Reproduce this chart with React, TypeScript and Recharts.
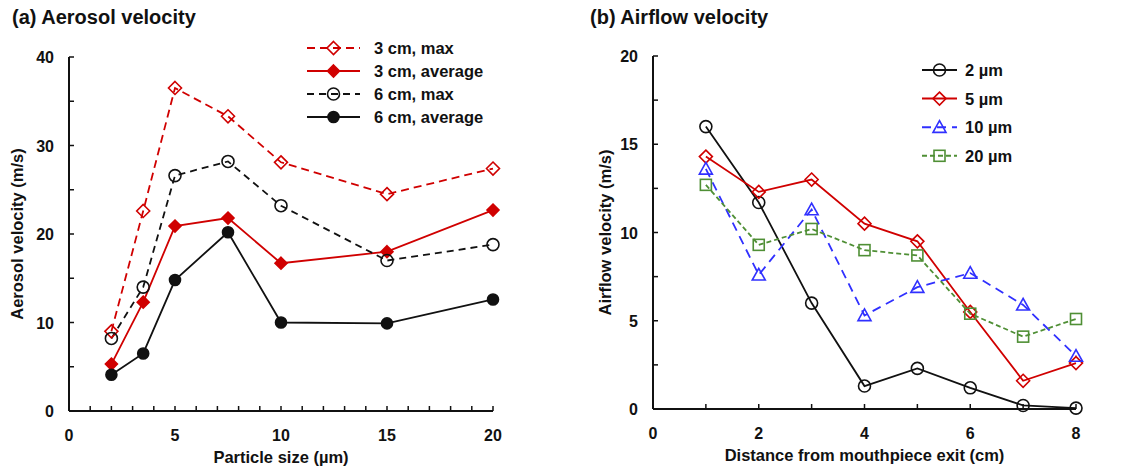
import React from 'react';
import { LineChart, Line, XAxis, YAxis, Legend, Label } from 'recharts';

// (a) aerosol velocity vs particle size
const particleSize = [2, 3.5, 5, 7.5, 10, 15, 20];
const max3cm = [9.0, 22.6, 36.5, 33.3, 28.1, 24.5, 27.4];
const avg3cm = [5.3, 12.3, 20.9, 21.8, 16.7, 18.0, 22.7];
const max6cm = [8.2, 14.0, 26.6, 28.2, 23.2, 17.0, 18.8];
const avg6cm = [4.1, 6.5, 14.8, 20.2, 10.0, 9.9, 12.6];

// (b) airflow velocity vs distance from mouthpiece exit
const distance = [1, 2, 3, 4, 5, 6, 7, 8];
const v2um = [16.0, 11.7, 6.0, 1.3, 2.3, 1.2, 0.2, 0.05];
const v5um = [14.3, 12.3, 13.0, 10.5, 9.5, 5.5, 1.6, 2.6];
const v10um = [13.6, 7.6, 11.3, 5.3, 6.9, 7.7, 5.9, 3.0];
const v20um = [12.7, 9.3, 10.2, 9.0, 8.7, 5.4, 4.1, 5.1];

const sizeTicks = [0, 1, 2, 3, 4, 5, 6, 7, 8, 9, 10, 11, 12, 13, 14, 15, 16, 17, 18, 19, 20];
const sizeLabels = [0, 5, 10, 15, 20];
const aeroTicks = [0, 5, 10, 15, 20, 25, 30, 35, 40];
const aeroLabels = [0, 10, 20, 30, 40];
const distTicks = [0, 1, 2, 3, 4, 5, 6, 7, 8];
const distLabels = [0, 2, 4, 6, 8];
const airTicks = [0, 2.5, 5, 7.5, 10, 12.5, 15, 17.5, 20];
const airLabels = [0, 5, 10, 15, 20];

const FONT = '"Liberation Sans", Arial, sans-serif';
const RED = '#d00000';
const BLUE = '#3030ff';
const GREEN = '#4f8f35';

const aeroData = particleSize.map((x, i) => ({
  x, max3: max3cm[i], avg3: avg3cm[i], max6: max6cm[i], avg6: avg6cm[i],
}));
const airData = distance.map((x, i) => ({
  x, s2: v2um[i], s5: v5um[i], s10: v10um[i], s20: v20um[i],
}));

type Shape = 'diamond' | 'circle' | 'triangle' | 'square';
interface Series {
  key: string; name: string; color: string; dash?: string;
  shape: Shape; filled: boolean; r: number;
}

const seriesA: Series[] = [
  { key: 'max3', name: '3 cm, max', color: RED, dash: '8 5', shape: 'diamond', filled: false, r: 6.5 },
  { key: 'avg3', name: '3 cm, average', color: RED, shape: 'diamond', filled: true, r: 6 },
  { key: 'max6', name: '6 cm, max', color: '#111', dash: '7 5', shape: 'circle', filled: false, r: 6 },
  { key: 'avg6', name: '6 cm, average', color: '#111', shape: 'circle', filled: true, r: 5.5 },
];
const seriesB: Series[] = [
  { key: 's2', name: '2 µm', color: '#111', shape: 'circle', filled: false, r: 6 },
  { key: 's5', name: '5 µm', color: RED, shape: 'diamond', filled: false, r: 6.5 },
  { key: 's10', name: '10 µm', color: BLUE, dash: '9 6', shape: 'triangle', filled: false, r: 6.5 },
  { key: 's20', name: '20 µm', color: GREEN, dash: '5 3', shape: 'square', filled: false, r: 5.5 },
];

const Marker = ({ cx, cy, s }: { cx: number; cy: number; s: Series }) => {
  const fill = s.filled ? s.color : 'none';
  const p = { stroke: s.color, strokeWidth: 1.6, fill };
  const r = s.r;
  if (s.shape === 'circle') return <circle cx={cx} cy={cy} r={r} {...p} />;
  if (s.shape === 'square') return <rect x={cx - r} y={cy - r} width={2 * r} height={2 * r} {...p} />;
  if (s.shape === 'triangle')
    return <polygon points={`${cx},${cy - r} ${cx + r},${cy + r * 0.8} ${cx - r},${cy + r * 0.8}`} {...p} />;
  return <polygon points={`${cx},${cy - r} ${cx + r},${cy} ${cx},${cy + r} ${cx - r},${cy}`} {...p} />;
};

const makeXTick = (labels: number[]) => (props: any) => {
  const { x, y, payload } = props;
  return (
    <g>
      <line x1={x} x2={x} y1={y} y2={y - 5} stroke="#111" strokeWidth={1.5} />
      {labels.includes(payload.value) && (
        <text x={x} y={y + 30} textAnchor="middle" fontSize={16} fontWeight="bold" fontFamily={FONT} fill="#111">
          {payload.value}
        </text>
      )}
    </g>
  );
};

const makeYTick = (labels: number[]) => (props: any) => {
  const { x, y, payload } = props;
  return (
    <g>
      <line x1={x} x2={x + 5} y1={y} y2={y} stroke="#111" strokeWidth={1.5} />
      {labels.includes(payload.value) && (
        <text x={x - 15} y={y} dy={6} textAnchor="end" fontSize={16} fontWeight="bold" fontFamily={FONT} fill="#111">
          {payload.value}
        </text>
      )}
    </g>
  );
};

const LegendBox = ({ series, rowH, lineW, textX, first }: { series: Series[]; rowH: number; lineW: number; textX: number; first: number }) => (
  <svg width={220} height={first + rowH * series.length} style={{ display: 'block' }}>
    {series.map((s, i) => {
      const cy = first + i * rowH;
      return (
        <g key={s.key}>
          <line x1={0} x2={lineW} y1={cy} y2={cy} stroke={s.color} strokeWidth={2} strokeDasharray={s.dash} />
          <Marker cx={lineW / 2} cy={cy} s={s} />
          <text x={textX} y={cy} dy={6} fontSize={16.5} fontWeight="bold" fontFamily={FONT} fill="#111">
            {s.name}
          </text>
        </g>
      );
    })}
  </svg>
);

const xLabel = (text: string) => (props: any) => {
  const vb = props.viewBox;
  return (
    <text x={vb.x + vb.width / 2} y={vb.y + 52} textAnchor="middle" fontSize={16.5} fontWeight="bold" fontFamily={FONT} fill="#111">
      {text}
    </text>
  );
};

const yLabel = (text: string, cx: number) => (props: any) => {
  const vb = props.viewBox;
  const cy = vb.y + vb.height / 2;
  return (
    <text x={cx} y={cy} dy={6} transform={`rotate(-90, ${cx}, ${cy})`} textAnchor="middle" fontSize={16.5} fontWeight="bold" fontFamily={FONT} fill="#111">
      {text}
    </text>
  );
};

const titleStyle: React.CSSProperties = {
  position: 'absolute', fontFamily: FONT, fontWeight: 'bold', fontSize: 20, color: '#111', whiteSpace: 'nowrap',
};

const renderLine = (s: Series) => (
  <Line
    key={s.key}
    type="linear"
    dataKey={s.key}
    name={s.name}
    stroke={s.color}
    strokeWidth={1.8}
    strokeDasharray={s.dash}
    isAnimationActive={false}
    dot={(p: any) => <Marker key={`${s.key}-${p.index}`} cx={p.cx} cy={p.cy} s={s} />}
    activeDot={false}
  />
);

export default function App() {
  return (
    <div style={{ position: 'absolute', left: 0, top: 0, width: 1127, height: 468, background: '#fff', overflow: 'hidden' }}>
      <div style={{ ...titleStyle, left: 12, top: 6 }}>(a) Aerosol velocity</div>
      <div style={{ ...titleStyle, left: 590, top: 6 }}>(b) Airflow velocity</div>

      <div style={{ position: 'absolute', left: 0, top: 0 }}>
        <LineChart width={560} height={468} data={aeroData} margin={{ top: 57, right: 67, bottom: 0, left: 0 }}>
          <XAxis dataKey="x" type="number" domain={[0, 20]} ticks={sizeTicks} interval={0} height={57}
            tickSize={0} tickMargin={0} tickLine={false} axisLine={{ stroke: '#111', strokeWidth: 2 }} tick={makeXTick(sizeLabels)}>
            <Label content={xLabel('Particle size (µm)')} />
          </XAxis>
          <YAxis type="number" domain={[0, 40]} ticks={aeroTicks} interval={0} width={69}
            tickSize={0} tickMargin={0} tickLine={false} axisLine={{ stroke: '#111', strokeWidth: 2 }} tick={makeYTick(aeroLabels)}>
            <Label content={yLabel('Aerosol velocity (m/s)', 17)} />
          </YAxis>
          <Legend layout="vertical" align="center" verticalAlign="middle"
            wrapperStyle={{ left: 307, top: 37, width: 220 }}
            content={() => <LegendBox series={seriesA} rowH={23} lineW={53} textX={67} first={11} />} />
          {seriesA.map(renderLine)}
        </LineChart>
      </div>

      <div style={{ position: 'absolute', left: 560, top: 0 }}>
        <LineChart width={567} height={468} data={airData} margin={{ top: 56, right: 51, bottom: 0, left: 0 }}>
          <XAxis dataKey="x" type="number" domain={[0, 8]} ticks={distTicks} interval={0} height={59}
            tickSize={0} tickMargin={0} tickLine={false} axisLine={{ stroke: '#111', strokeWidth: 2 }} tick={makeXTick(distLabels)}>
            <Label content={xLabel('Distance from mouthpiece exit (cm)')} />
          </XAxis>
          <YAxis type="number" domain={[0, 20]} ticks={airTicks} interval={0} width={93}
            tickSize={0} tickMargin={0} tickLine={false} axisLine={{ stroke: '#111', strokeWidth: 2 }} tick={makeYTick(airLabels)}>
            <Label content={yLabel('Airflow velocity (m/s)', 45)} />
          </YAxis>
          <Legend layout="vertical" align="center" verticalAlign="middle"
            wrapperStyle={{ left: 362, top: 56, width: 220 }}
            content={() => <LegendBox series={seriesB} rowH={28.6} lineW={35} textX={43} first={14} />} />
          {seriesB.map(renderLine)}
        </LineChart>
      </div>
    </div>
  );
}
